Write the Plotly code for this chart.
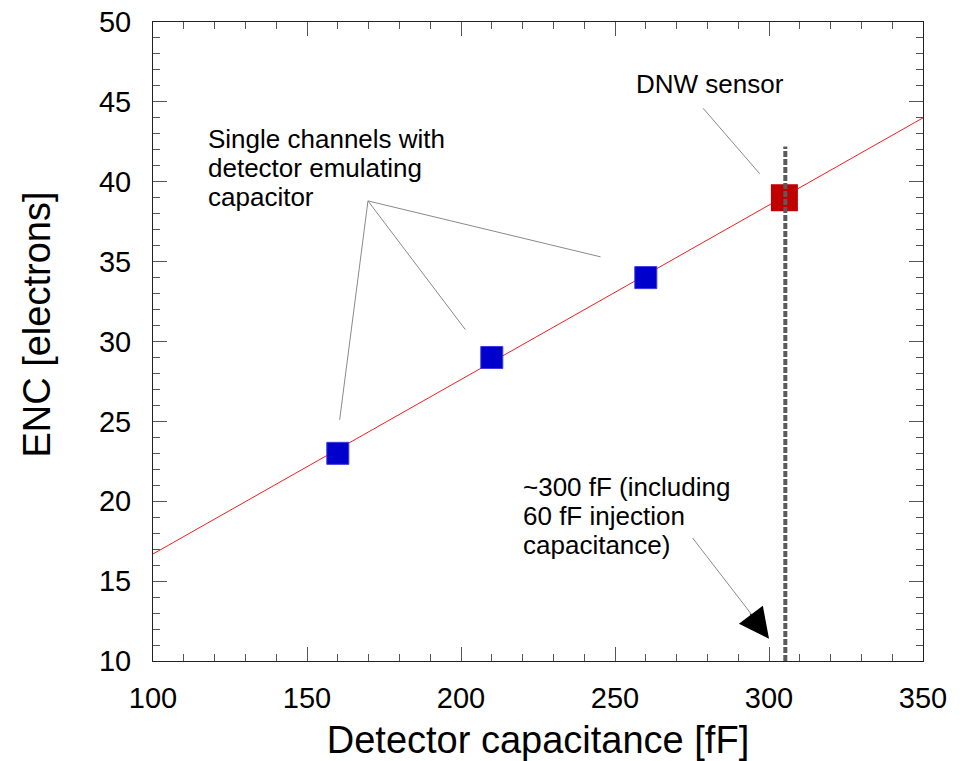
import plotly.graph_objects as go

# ---- data ----
channel_cap = [160, 210, 260]          # fF, single channels
channel_enc = [23, 29, 34]             # electrons
sensor_cap = [305]                     # DNW sensor
sensor_enc = [39]
fit_cap = [100, 350]                   # linear fit
fit_enc = [16.7, 44.0]
sensor_line_cap = [305.3, 305.3]       # vertical dashed marker
sensor_line_enc = [10, 42.2]

x_ticks = [100, 150, 200, 250, 300, 350]
y_ticks = [10, 15, 20, 25, 30, 35, 40, 45, 50]

FONT = "Liberation Sans, Arial, Helvetica, sans-serif"

fig = go.Figure()

fig.add_trace(go.Scatter(x=fit_cap, y=fit_enc, mode="lines",
                         line=dict(color="#f02020", width=1), hoverinfo="skip"))
fig.add_trace(go.Scatter(x=channel_cap, y=channel_enc, mode="markers",
                         marker=dict(symbol="square", size=22, color="#0000cc",
                                     line=dict(color="#3a3ae0", width=1))))
fig.add_trace(go.Scatter(x=sensor_cap, y=sensor_enc, mode="markers",
                         marker=dict(symbol="square", size=27, color="#c00000",
                                     line=dict(width=0))))
fig.add_trace(go.Scatter(x=sensor_line_cap, y=sensor_line_enc, mode="lines",
                         line=dict(color="#5a5a5a", width=4, dash="6px,2px"),
                         hoverinfo="skip"))

# leader lines
lead = dict(type="line", xref="x", yref="y", line=dict(color="#8a8a8a", width=1))
apex = (169.8, 38.8)
for ex, ey in [(160.6, 25.1), (201.4, 30.75), (245.3, 35.3)]:
    fig.add_shape(x0=apex[0], y0=apex[1], x1=ex, y1=ey, **lead)
fig.add_shape(x0=278.6, y0=44.6, x1=297.0, y1=40.5, **lead)
fig.add_shape(x0=275.2, y0=17.7, x1=296.0, y1=12.5, **lead)

# arrow head
fig.add_annotation(x=300, y=11.4, ax=293.5, ay=13.05, xref="x", yref="y",
                   axref="x", ayref="y", text="", showarrow=True,
                   arrowhead=2, arrowsize=6, arrowwidth=1, arrowcolor="black")

txt = dict(xref="x", yref="y", showarrow=False, xanchor="left", yanchor="middle",
           borderpad=0, font=dict(family=FONT, size=26, color="black"))
fig.add_annotation(x=256.4, y=46.09, text="DNW sensor", **txt)
for t, yy in [("Single channels with", 42.65), ("detector emulating", 40.83),
              ("capacitor", 39.02)]:
    fig.add_annotation(x=117.4, y=yy, text=t, **txt)
for t, yy in [("~300 fF (including", 20.88), ("60 fF injection", 19.06),
              ("capacitance)", 17.24)]:
    fig.add_annotation(x=219.9, y=yy, text=t, **txt)

# y-axis title placed like the reference (slightly above centre)
fig.add_annotation(text="ENC [electrons]", xref="paper", yref="paper",
                   x=-0.151, y=0.526, xanchor="center", yanchor="middle",
                   textangle=-90, showarrow=False, borderpad=0,
                   font=dict(family=FONT, size=38, color="black"))

axis_common = dict(showgrid=False, zeroline=False, showline=True, linecolor="#222222",
                   linewidth=1, mirror="ticks", ticks="inside", ticklen=14,
                   tickwidth=1, tickcolor="#555555",
                   tickfont=dict(family=FONT, size=29, color="black"))

fig.update_xaxes(range=[100, 350], tickvals=x_ticks, ticklabelstandoff=11,
                 minor=dict(dtick=10, ticks="inside", ticklen=7, tickcolor="#555555",
                            tickwidth=1),
                 title=dict(text="Detector capacitance [fF]",
                            font=dict(family=FONT, size=38, color="black"),
                            standoff=14),
                 **axis_common)
fig.update_yaxes(range=[10, 50], tickvals=y_ticks, ticklabelstandoff=15,
                 minor=dict(dtick=1, ticks="inside", ticklen=7, tickcolor="#555555",
                            tickwidth=1),
                 **axis_common)

fig.update_layout(width=965, height=761, showlegend=False,
                  margin=dict(l=153, r=42, t=22, b=100, autoexpand=False),
                  paper_bgcolor="white", plot_bgcolor="white",
                  font=dict(family=FONT))

fig.write_html("out.html")
